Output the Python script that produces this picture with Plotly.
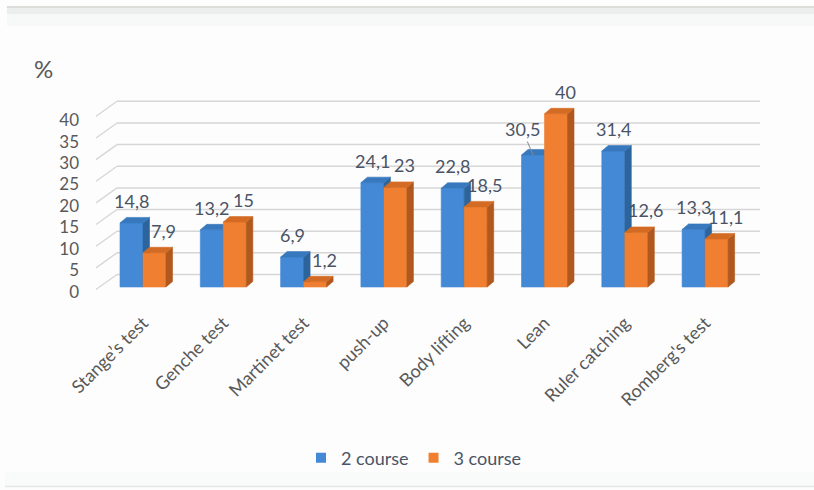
import plotly.graph_objects as go

# ---- data -------------------------------------------------------------
categories = ["Stange’s test", "Genche test", "Martinet test", "push-up",
              "Body lifting", "Lean", "Ruler catching", "Romberg's test"]
course2 = [14.8, 13.2, 6.9, 24.1, 22.8, 30.5, 31.4, 13.3]
course3 = [7.9, 15, 1.2, 23, 18.5, 40, 12.6, 11.1]
series_names = ["2 course", "3 course"]
y_ticks = [0, 5, 10, 15, 20, 25, 30, 35, 40]

# ---- styling ----------------------------------------------------------
FONT = "Lato"
TEXT = "#595959"
LABEL = "#4a5466"
BLUE = {"front": "#4389d6", "side": "#2c659d", "top": "#3878bd"}
ORANGE = {"front": "#f07f31", "side": "#b0581d", "top": "#d36b24"}
GRID = "#d6d6d6"

W, H = 814, 490
L, R, T, B = 90, 44, 70, 190           # plot margins (px)
PW, PH = W - L - R, H - T - B

# category spacing / value scale (px per unit)
CAT_PX = 80.3
VAL_PX = 4.33
FIRST_CAT_PX = 143                     # centre of first group
ZERO_PX = 287                          # baseline of the bar fronts

x_range = [(L - FIRST_CAT_PX) / CAT_PX, (L + PW - FIRST_CAT_PX) / CAT_PX]
y_range = [(ZERO_PX - (T + PH)) / VAL_PX, (ZERO_PX - T) / VAL_PX]
# value labels sit a little lower than the bar fronts
LAB_ZERO_PX, LAB_PX = 291.7, 4.29
y2_range = [(LAB_ZERO_PX - (T + PH)) / LAB_PX, (LAB_ZERO_PX - T) / LAB_PX]

BAR_W = 23 / CAT_PX                    # width of one bar
DX, DY = 6.5 / CAT_PX, 5.5 / VAL_PX    # depth of the 3-D bars
WALL_DX0, WALL_DX1 = (117 - FIRST_CAT_PX) / CAT_PX, (760 - FIRST_CAT_PX) / CAT_PX
WALL_DY = (ZERO_PX - 274.5) / VAL_PX
DIAG_X0 = (96 - FIRST_CAT_PX) / CAT_PX
DIAG_DY = 15 / VAL_PX


def faces(values, offset):
    """Polygons (front, side, top) of a row of 3-D bars."""
    fx, fy, sx, sy, tx, ty = [], [], [], [], [], []
    for i, v in enumerate(values):
        x0 = i + offset
        x1 = x0 + BAR_W
        fx += [x0, x1, x1, x0, x0, None]
        fy += [0, 0, v, v, 0, None]
        sx += [x1, x1 + DX, x1 + DX, x1, x1, None]
        sy += [0, DY, v + DY, v, 0, None]
        tx += [x0, x1, x1 + DX, x0 + DX, x0, None]
        ty += [v, v, v + DY, v + DY, v, None]
    return (fx, fy), (sx, sy), (tx, ty)


fig = go.Figure()

for values, offset, pal in [(course2, -BAR_W, BLUE), (course3, 0.0, ORANGE)]:
    front, side, top = faces(values, offset)
    for (px, py), key in [(front, "front"), (side, "side"), (top, "top")]:
        fig.add_trace(go.Scatter(
            x=px, y=py, mode="lines", fill="toself", fillcolor=pal[key],
            line=dict(width=0.6, color=pal[key]), showlegend=False,
            hoverinfo="skip"))

# legend entries (square swatches), on the label axis
for name, pal in zip(series_names, [BLUE, ORANGE]):
    fig.add_trace(go.Scatter(
        x=[None], y=[None], mode="markers", name=name, yaxis="y2",
        marker=dict(symbol="square", size=10, color=pal["front"])))

# back wall grid lines and floor diagonals
shapes = []
for v in y_ticks:
    shapes.append(dict(type="line", xref="x", yref="y", layer="below",
                       x0=WALL_DX0, x1=WALL_DX1, y0=v + WALL_DY, y1=v + WALL_DY,
                       line=dict(color=GRID, width=1.5)))
    shapes.append(dict(type="line", xref="x", yref="y", layer="below",
                       x0=DIAG_X0, x1=WALL_DX0,
                       y0=v + WALL_DY - DIAG_DY, y1=v + WALL_DY,
                       line=dict(color=GRID, width=1.3)))


# frame of the chart area
def px_x(p):
    return (p - L) / PW


def px_y(p):
    return (T + PH - p) / PH


shapes += [
    dict(type="rect", xref="paper", yref="paper", layer="below",
         x0=px_x(7), x1=px_x(W), y0=px_y(26), y1=px_y(8),
         fillcolor="#f7f8f8", line=dict(width=0)),
    dict(type="rect", xref="paper", yref="paper", layer="below",
         x0=px_x(7), x1=px_x(W), y0=px_y(14), y1=px_y(8),
         fillcolor="#eceeed", line=dict(width=0)),
    dict(type="line", xref="paper", yref="paper", layer="below",
         x0=px_x(7), x1=px_x(W), y0=px_y(7), y1=px_y(7),
         line=dict(color="#dcdcd8", width=2)),
    dict(type="rect", xref="paper", yref="paper", layer="below",
         x0=px_x(5), x1=px_x(W), y0=px_y(486), y1=px_y(472),
         fillcolor="#f9fafa", line=dict(width=0)),
    dict(type="line", xref="paper", yref="paper", layer="below",
         x0=px_x(5), x1=px_x(W), y0=px_y(486.5), y1=px_y(486.5),
         line=dict(color="#e6e6e6", width=1.5)),
]


def fmt(v):
    return f"{v:g}".replace(".", ",")


LBL_FONT = dict(family=FONT, size=18, color=LABEL)
annotations = []
for i, (a, b) in enumerate(zip(course2, course3)):
    xa = i - BAR_W / 2
    xb = i + BAR_W / 2
    if b > a and abs(b - a) > 5:
        # crowded pair: pull the lower label aside with a leader line
        annotations.append(dict(x=xa, y=a, xref="x", yref="y", text=fmt(a),
                                showarrow=True, arrowhead=0, arrowwidth=1,
                                arrowcolor="#8c8c8c", ax=-11, ay=-26,
                                standoff=0, font=LBL_FONT))
    else:
        annotations.append(dict(x=xa, y=a, xref="x", yref="y", text=fmt(a),
                                showarrow=False, yshift=22, font=LBL_FONT))
    annotations.append(dict(x=xb, y=b, xref="x", yref="y", text=fmt(b),
                            showarrow=False, yshift=22, xshift=9,
                            font=LBL_FONT))

annotations.append(dict(x=px_x(43), y=px_y(68), xref="paper", yref="paper",
                        xanchor="center", yanchor="middle",
                        text="%", showarrow=False,
                        font=dict(family=FONT, size=24, color=TEXT)))

fig.update_layout(
    width=W, height=H,
    margin=dict(l=L, r=R, t=T, b=B, autoexpand=False),
    paper_bgcolor="#fdfdfd", plot_bgcolor="rgba(0,0,0,0)",
    font=dict(family=FONT, size=16, color=TEXT),
    xaxis=dict(range=x_range, tickmode="array",
               tickvals=list(range(len(categories))), ticktext=categories,
               tickangle=-45, showgrid=False, zeroline=False, showline=False,
               ticks="", ticklabelstandoff=8,
               tickfont=dict(family=FONT, size=18, color=TEXT),
               fixedrange=True),
    yaxis=dict(range=y_range, showgrid=False, zeroline=False, showline=False,
               showticklabels=False, ticks="", fixedrange=True),
    yaxis2=dict(range=y2_range, overlaying="y", side="left", anchor="x",
                tickmode="array", tickvals=y_ticks, showgrid=False,
                zeroline=False, showline=False, ticks="",
                ticklabelstandoff=10,
                tickfont=dict(family=FONT, size=17, color=TEXT),
                fixedrange=True),
    legend=dict(orientation="h", x=px_x(414), xanchor="center",
                y=px_y(458), yanchor="middle",
                font=dict(family=FONT, size=18, color=LABEL),
                bgcolor="rgba(0,0,0,0)"),
    shapes=shapes, annotations=annotations,
    hovermode=False,
)

fig.write_html("out.html")
